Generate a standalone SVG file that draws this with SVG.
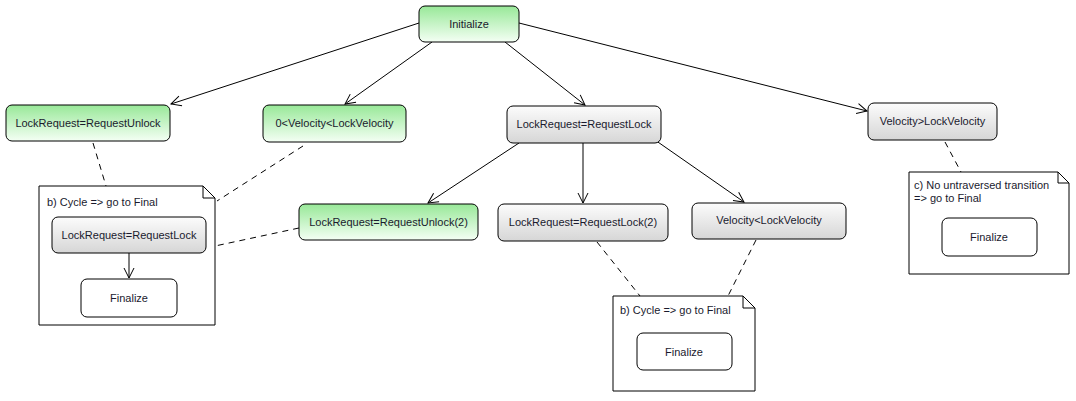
<svg xmlns="http://www.w3.org/2000/svg" width="1076" height="401" viewBox="0 0 1076 401">
<defs>
<linearGradient id="gGreen" x1="0" y1="0" x2="0" y2="1"><stop offset="0" stop-color="#98e898"/><stop offset="1" stop-color="#f4fff4"/></linearGradient>
<linearGradient id="gGray" x1="0" y1="0" x2="0" y2="1"><stop offset="0" stop-color="#fcfcfc"/><stop offset="1" stop-color="#d6d6d6"/></linearGradient>
<marker id="arr" markerWidth="12" markerHeight="12" refX="11" refY="6" orient="auto" markerUnits="userSpaceOnUse"><path d="M1,1 L11,6 L1,11" fill="none" stroke="#000" stroke-width="1"/></marker>
<style>
.n{stroke:#000;stroke-width:1}
.green{fill:url(#gGreen)}
.gray{fill:url(#gGray)}
.white{fill:#fff}
.t{font-family:"Liberation Sans",Arial,sans-serif;font-size:11px;fill:#1a1a2e}
.c{text-anchor:middle}
.e{stroke:#000;stroke-width:1;fill:none}
.d{stroke:#000;stroke-width:1;fill:none;stroke-dasharray:6,5}
.note{fill:#fff;stroke:#000;stroke-width:1}
</style>
</defs>
<g id="connectors">
<line class="e" x1="419" y1="23" x2="171" y2="104" marker-end="url(#arr)"/>
<line class="e" x1="432" y1="42" x2="345" y2="104" marker-end="url(#arr)"/>
<line class="e" x1="505" y1="42" x2="585" y2="105" marker-end="url(#arr)"/>
<line class="e" x1="519" y1="23" x2="867" y2="111" marker-end="url(#arr)"/>
<line class="e" x1="519" y1="143" x2="428" y2="203" marker-end="url(#arr)"/>
<line class="e" x1="583" y1="143" x2="583" y2="203" marker-end="url(#arr)"/>
<line class="e" x1="655" y1="140" x2="744" y2="202" marker-end="url(#arr)"/>
<line class="d" x1="93" y1="143" x2="106" y2="186"/>
<line class="d" x1="303" y1="146" x2="217" y2="201"/>
<line class="d" x1="299" y1="228" x2="215" y2="246"/>
<line class="d" x1="945" y1="142" x2="961" y2="172"/>
<line class="d" x1="597" y1="242" x2="640" y2="296"/>
<line class="d" x1="756" y1="240" x2="728" y2="296"/>
</g>
<g id="noteB1">
<path class="note" d="M39,186 H203 L215,198 V325 H39 Z"/>
<path class="e" d="M203,186 V198 H215"/>
<text class="t" x="47" y="206">b) Cycle =&gt; go to Final</text>
<rect class="n gray" x="52" y="217" width="154" height="36" rx="6"/>
<text class="t c" x="129" y="239">LockRequest=RequestLock</text>
<line class="e" x1="129" y1="253" x2="129" y2="278" marker-end="url(#arr)"/>
<rect class="n white" x="81" y="279" width="96" height="38" rx="6"/>
<text class="t c" x="129" y="302">Finalize</text>
</g>
<g id="noteB2">
<path class="note" d="M613,296 H743 L755,308 V391 H613 Z"/>
<path class="e" d="M743,296 V308 H755"/>
<text class="t" x="620" y="314">b) Cycle =&gt; go to Final</text>
<rect class="n white" x="637" y="333" width="95" height="37" rx="6"/>
<text class="t c" x="684" y="356">Finalize</text>
</g>
<g id="noteC">
<path class="note" d="M909,172 H1058 L1069,183 V274 H909 Z"/>
<path class="e" d="M1058,172 V183 H1069"/>
<text class="t" x="914" y="189">c) No untraversed transition</text>
<text class="t" x="914" y="202">=&gt; go to Final</text>
<rect class="n white" x="942" y="218" width="95" height="38" rx="6"/>
<text class="t c" x="989" y="241">Finalize</text>
</g>
<g id="initialize">
<rect class="n green" x="419" y="6" width="100" height="36" rx="6"/>
<text class="t c" x="469" y="28">Initialize</text>
</g>
<g id="unlock">
<rect class="n green" x="6" y="105" width="164" height="36" rx="6"/>
<text class="t c" x="88" y="127">LockRequest=RequestUnlock</text>
</g>
<g id="velMid">
<rect class="n green" x="263" y="105" width="143" height="37" rx="6"/>
<text class="t c" x="334.5" y="127">0&lt;Velocity&lt;LockVelocity</text>
</g>
<g id="lock">
<rect class="n gray" x="507" y="106" width="154" height="37" rx="6"/>
<text class="t c" x="584" y="128">LockRequest=RequestLock</text>
</g>
<g id="velHigh">
<rect class="n gray" x="868" y="103" width="129" height="37" rx="6"/>
<text class="t c" x="932.5" y="125">Velocity&gt;LockVelocity</text>
</g>
<g id="unlock2">
<rect class="n green" x="299" y="204" width="179" height="36" rx="6"/>
<text class="t c" x="388.5" y="226">LockRequest=RequestUnlock(2)</text>
</g>
<g id="lock2">
<rect class="n gray" x="498" y="204" width="170" height="37" rx="6"/>
<text class="t c" x="583" y="226">LockRequest=RequestLock(2)</text>
</g>
<g id="velLow">
<rect class="n gray" x="692" y="203" width="154" height="36" rx="6"/>
<text class="t c" x="769" y="224">Velocity&lt;LockVelocity</text>
</g>
</svg>
